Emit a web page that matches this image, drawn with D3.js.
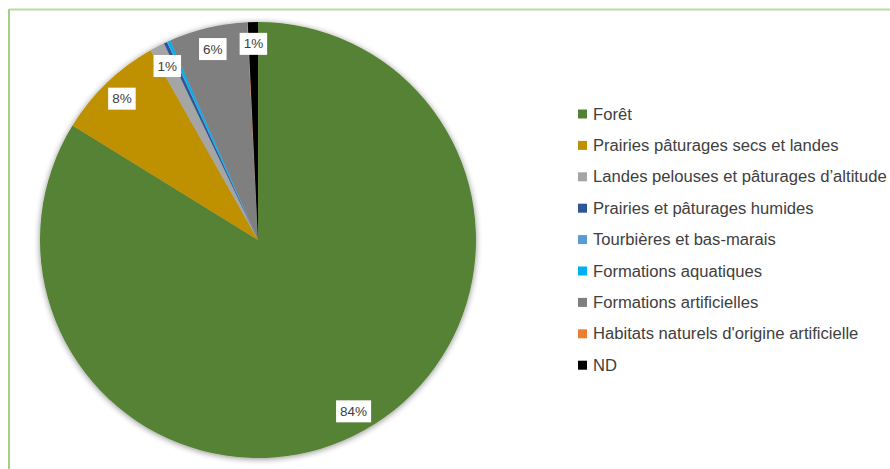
<!DOCTYPE html>
<html><head><meta charset="utf-8">
<script src="https://cdn.jsdelivr.net/npm/d3@7"></script>
<style>
html,body{margin:0;padding:0;background:#fff;}
svg{display:block;}
</style></head>
<body>
<svg id="chart" width="890" height="469"></svg>
<script>
const categories = ["Forêt","Prairies pâturages secs et landes","Landes pelouses et pâturages d’altitude","Prairies et pâturages humides","Tourbières et bas-marais","Formations aquatiques","Formations artificielles","Habitats naturels d'origine artificielle","ND"];
const values = [83.8, 8.0, 1.1, 0.25, 0.05, 0.2, 5.8, 0.05, 0.75];
const labels = ["84%","8%","1%","","","","6%","","1%"];
const colors = ["#548235","#BF9000","#A5A5A5","#2F5597","#5B9BD5","#00B0F0","#7F7F7F","#ED7D31","#000000"];

const svg = d3.select("#chart");
const W = 890, H = 469;

// frame
svg.append("line").attr("x1",9).attr("x2",W).attr("y1",9.5).attr("y2",9.5).attr("stroke","#B8DCA0").attr("stroke-width",2);
svg.append("line").attr("x1",9).attr("x2",9).attr("y1",9).attr("y2",H).attr("stroke","#A3D084").attr("stroke-width",2);

const defs = svg.append("defs");
const f = defs.append("filter").attr("id","sh").attr("x","-20%").attr("y","-20%").attr("width","140%").attr("height","140%");
f.append("feGaussianBlur").attr("in","SourceAlpha").attr("stdDeviation",3).attr("result","b");
f.append("feOffset").attr("in","b").attr("dx",0).attr("dy",1).attr("result","o");
f.append("feComponentTransfer").attr("in","o").attr("result","o2").append("feFuncA").attr("type","linear").attr("slope",0.45);
const m = f.append("feMerge"); m.append("feMergeNode").attr("in","o2"); m.append("feMergeNode").attr("in","SourceGraphic");

const cx = 258, cy = 240, R = 218;
const data = categories.map((c,i)=>({name:c, value:values[i], label:labels[i], color:colors[i]}));
const pie = d3.pie().value(d=>d.value).sort(null);
const arcs = pie(data);
const arc = d3.arc().innerRadius(0).outerRadius(R);
const labelArc = d3.arc().innerRadius(R*0.9).outerRadius(R*0.9);

const g = svg.append("g").attr("transform",`translate(${cx},${cy})`);
g.append("g").attr("filter","url(#sh)").selectAll("path").data(arcs).join("path")
  .attr("d",arc).attr("fill",d=>d.data.color);

const lg = g.append("g");
arcs.filter(d=>d.data.label).forEach(d=>{
  const [x,y] = labelArc.centroid(d);
  const t = lg.append("text").attr("x",x).attr("y",y).attr("text-anchor","middle").attr("dominant-baseline","central")
    .attr("font-family","Liberation Sans, Arial, sans-serif").attr("font-size",13.5).attr("fill","#404040").text(d.data.label);
  const bb = t.node().getBBox();
  lg.insert("rect","text").attr("x",bb.x-4).attr("y",y-11).attr("width",bb.width+8).attr("height",22).attr("fill","#fff");
});

// legend
const leg = svg.append("g").attr("transform","translate(578,114)");
const rowH = 31.4;
const items = leg.selectAll("g").data(data).join("g").attr("transform",(d,i)=>`translate(0,${i*rowH})`);
items.append("rect").attr("x",0).attr("y",-4.5).attr("width",9).attr("height",9).attr("fill",d=>d.color);
const texts = items.append("text").attr("x",15).attr("y",0).attr("dominant-baseline","central")
  .attr("font-family","Liberation Sans, Arial, sans-serif").attr("font-size",14).attr("fill","#404040").text(d=>d.name);
// fit longest legend entry to reference width
let maxW = 0; texts.each(function(){ maxW = Math.max(maxW, this.getComputedTextLength()); });
const fs = 14 * 294 / maxW;
texts.attr("font-size", fs);
</script>
</body></html>
